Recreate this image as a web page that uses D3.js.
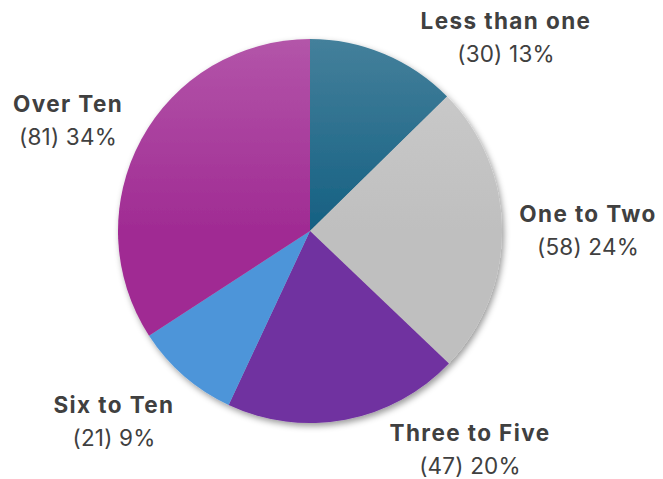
<!DOCTYPE html>
<html>
<head>
<meta charset="utf-8">
<script src="https://cdn.jsdelivr.net/npm/d3@7"></script>
<style>
  body { margin: 0; background: #fff; }
  text { font-family: Inter, "Open Sans", sans-serif; fill: #404040; }
</style>
</head>
<body>
<svg width="663" height="479"></svg>
<script>
// Chart data
const categories = ["Less than one", "One to Two", "Three to Five", "Six to Ten", "Over Ten"];
const counts = [30, 58, 47, 21, 81];
const percentLabels = ["13%", "24%", "20%", "9%", "34%"];
const colors = ["#156082", "#bfbfbf", "#7030a0", "#4e95d9", "#a02b93"];

// where each label block sits (centre x, baseline of first line)
const labelPos = [[506, 29], [588, 222], [470, 441], [114, 413], [68, 112]];

var svg = d3.select("svg"),
    cx = 310, cy = 231, radius = 192;

var defs = svg.append("defs");

// soft drop shadow under the pie
var shadow = defs.append("filter")
    .attr("id", "shadow")
    .attr("x", "-20%").attr("y", "-20%")
    .attr("width", "140%").attr("height", "140%");
shadow.append("feDropShadow")
    .attr("dx", 2).attr("dy", 3)
    .attr("stdDeviation", 3)
    .attr("flood-color", "#000")
    .attr("flood-opacity", 0.4);

// light vertical gradient for every slice, lighter at the top
colors.forEach(function(c, i) {
    var grad = defs.append("linearGradient")
        .attr("id", "grad" + i)
        .attr("gradientUnits", "userSpaceOnUse")
        .attr("x1", 0).attr("x2", 0)
        .attr("y1", -radius).attr("y2", radius);
    grad.append("stop").attr("offset", "0%").attr("stop-color", d3.interpolateRgb(c, "#fff")(0.2));
    grad.append("stop").attr("offset", "50%").attr("stop-color", c);
    grad.append("stop").attr("offset", "100%").attr("stop-color", c);
});

var pie = d3.pie().sort(null).value(function(d) { return d; });
var arc = d3.arc().innerRadius(0).outerRadius(radius);

var g = svg.append("g")
    .attr("transform", "translate(" + cx + "," + cy + ")");

var slices = g.append("g").attr("filter", "url(#shadow)");
slices.selectAll("path")
    .data(pie(counts))
    .enter().append("path")
    .attr("d", arc)
    .attr("fill", function(d, i) { return "url(#grad" + i + ")"; });

// Data labels
var labels = svg.selectAll(".label")
    .data(categories)
    .enter().append("text")
    .attr("class", "label")
    .attr("text-anchor", "middle")
    .attr("transform", function(d, i) { return "translate(" + labelPos[i][0] + "," + labelPos[i][1] + ")"; });

labels.append("tspan")
    .attr("x", 0)
    .attr("font-size", "22.5px")
    .attr("font-weight", "bold")
    .attr("letter-spacing", "1.4px")
    .text(function(d) { return d; });

labels.append("tspan")
    .attr("x", 0)
    .attr("dy", 33)
    .attr("font-size", "22.5px")
    .attr("letter-spacing", "0.2px")
    .text(function(d, i) { return "(" + counts[i] + ") " + percentLabels[i]; });
</script>
</body>
</html>
